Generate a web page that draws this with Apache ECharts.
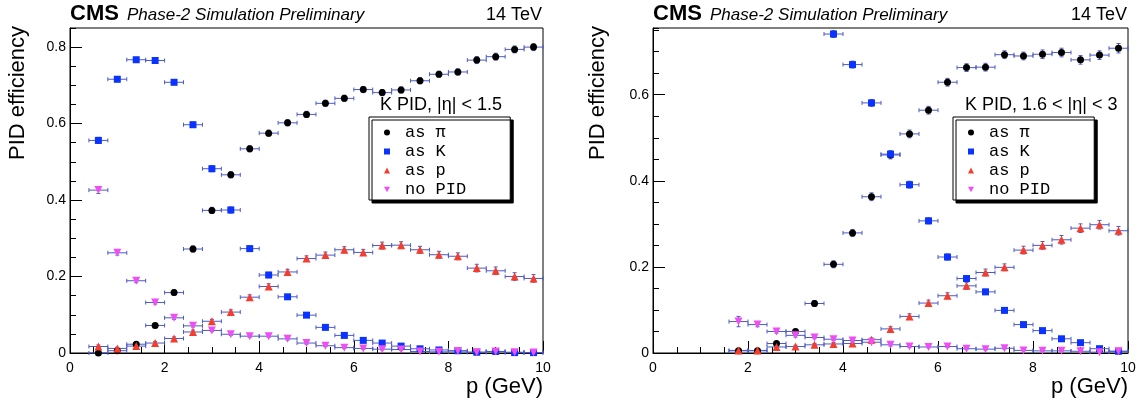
<!DOCTYPE html>
<html><head><meta charset="utf-8">
<script src="https://cdn.jsdelivr.net/npm/echarts@6/dist/echarts.min.js"></script>
<style>html,body{margin:0;padding:0;background:#fff}#c{width:1141px;height:405px}</style>
</head><body><div id="c"></div>
<script>
// ---------- data ----------
const pLeft = [0.6,1.0,1.4,1.8,2.2,2.6,3.0,3.4,3.8,4.2,4.6,5.0,5.4,5.8,6.2,6.6,7.0,7.4,7.8,8.2,8.6,9.0,9.4,9.8];
const leftPi = [0.000,0.006,0.023,0.072,0.158,0.272,0.373,0.466,0.534,0.575,0.602,0.624,0.653,0.666,0.689,0.681,0.688,0.712,0.729,0.735,0.766,0.775,0.794,0.800];
const leftK  = [0.556,0.716,0.767,0.765,0.708,0.597,0.482,0.374,0.273,0.204,0.147,0.099,0.067,0.046,0.033,0.026,0.018,0.011,0.008,0.006,0.002,0.004,0.001,0.001];
const leftP  = [0.017,0.012,0.018,0.026,0.038,0.055,0.083,0.107,0.146,0.174,0.212,0.247,0.256,0.270,0.263,0.281,0.282,0.270,0.257,0.253,0.222,0.215,0.200,0.195];
const leftNo = [0.426,0.262,0.189,0.132,0.092,0.071,0.059,0.049,0.044,0.044,0.037,0.026,0.019,0.014,0.012,0.010,0.009,0.004,0.003,0.005,0.002,0.004,0.002,0.001];
const leftPiErr = [0.002,0.003,0.004,0.005,0.007,0.008,0.008,0.008,0.008,0.008,0.008,0.008,0.008,0.008,0.008,0.008,0.008,0.008,0.008,0.008,0.009,0.009,0.009,0.009];
const leftKErr  = [0.008,0.007,0.006,0.006,0.006,0.007,0.008,0.008,0.007,0.007,0.006,0.005,0.004,0.004,0.003,0.003,0.003,0.002,0.002,0.002,0.002,0.002,0.001,0.001];
const leftPErr  = [0.004,0.003,0.003,0.004,0.004,0.005,0.005,0.006,0.006,0.007,0.007,0.007,0.008,0.008,0.008,0.009,0.009,0.009,0.009,0.009,0.010,0.010,0.010,0.010];
const leftNoErr = [0.009,0.006,0.005,0.004,0.004,0.003,0.003,0.003,0.003,0.003,0.003,0.003,0.002,0.002,0.002,0.002,0.002,0.002,0.001,0.001,0.001,0.001,0.001,0.001];

const pRight = [1.8,2.2,2.6,3.0,3.4,3.8,4.2,4.6,5.0,5.4,5.8,6.2,6.6,7.0,7.4,7.8,8.2,8.6,9.0,9.4,9.8];
const rightPi = [0.005,0.005,0.022,0.050,0.115,0.206,0.279,0.363,0.460,0.509,0.564,0.629,0.663,0.664,0.693,0.690,0.694,0.698,0.681,0.692,0.708];
const rightK  = [null,null,null,null,null,0.741,0.670,0.581,0.462,0.391,0.307,0.223,0.173,0.142,0.099,0.066,0.052,0.033,0.024,0.010,0.004];
const rightP  = [0.006,0.006,0.014,0.015,0.019,0.021,0.022,0.031,0.056,0.085,0.116,0.133,0.156,0.187,0.199,0.239,0.250,0.263,0.290,0.298,0.284];
const rightNo = [0.073,0.066,0.050,0.041,0.036,0.032,0.029,0.025,0.019,0.015,0.014,0.015,0.010,0.009,0.011,0.006,0.005,0.005,0.004,0.002,0.004];
const rightPiErr = [0.003,0.003,0.004,0.005,0.007,0.008,0.008,0.009,0.009,0.009,0.009,0.009,0.009,0.009,0.009,0.009,0.010,0.010,0.010,0.010,0.011];
const rightKErr  = [null,null,null,null,null,0.008,0.008,0.008,0.008,0.008,0.007,0.007,0.006,0.006,0.005,0.004,0.004,0.003,0.003,0.002,0.002];
const rightPErr  = [0.002,0.002,0.003,0.003,0.003,0.003,0.003,0.004,0.005,0.006,0.007,0.007,0.008,0.008,0.008,0.009,0.009,0.010,0.010,0.010,0.010];
const rightNoErr = [0.012,0.005,0.004,0.004,0.003,0.003,0.003,0.003,0.003,0.002,0.002,0.002,0.002,0.002,0.002,0.001,0.001,0.001,0.001,0.001,0.001];

const binHalfWidth = 0.2;
const seriesNames = ['as \u03c0', 'as K', 'as p', 'no PID'];
const leftTitle = 'K PID, |\u03b7| < 1.5';
const rightTitle = 'K PID, 1.6 < |\u03b7| < 3';

// ---------- styles ----------
const COLORS = ['#000000', '#0a33ff', '#f43d2c', '#f04ef5'];
const SYMBOLS = ['circle', 'rect', 'triangle', 'path://M0,0L10,0L5,9Z'];
const SIZES = [7, 7, 8, 8];
const ERR_COLOR = '#4d5ac4';
const SANS = '"Liberation Sans", Arial, sans-serif';

function pairs(xs, ys) { return xs.map((x, i) => ys[i] == null ? null : [x, ys[i]]).filter(Boolean); }
function triples(xs, ys, es) { return xs.map((x, i) => ys[i] == null ? null : [x, ys[i], es[i]]).filter(Boolean); }

function errRender(params, api) {
  const x = api.value(0), y = api.value(1), e = api.value(2);
  const l = api.coord([x - binHalfWidth, y]), r = api.coord([x + binHalfWidth, y]);
  const t = api.coord([x, y + e]), b = api.coord([x, Math.max(0, y - e)]);
  const st = { stroke: ERR_COLOR, lineWidth: 1 };
  const c = 2;
  return { type: 'group', children: [
    { type: 'line', shape: { x1: l[0], y1: l[1], x2: r[0], y2: r[1] }, style: st },
    { type: 'line', shape: { x1: l[0], y1: l[1] - c, x2: l[0], y2: l[1] + c }, style: st },
    { type: 'line', shape: { x1: r[0], y1: r[1] - c, x2: r[0], y2: r[1] + c }, style: st },
    { type: 'line', shape: { x1: t[0], y1: t[1], x2: b[0], y2: b[1] }, style: st },
    { type: 'line', shape: { x1: t[0] - c, y1: t[1], x2: t[0] + c, y2: t[1] }, style: st },
    { type: 'line', shape: { x1: b[0] - c, y1: b[1], x2: b[0] + c, y2: b[1] }, style: st }
  ]};
}

function panelSeries(xi, yi, xs, vals, errs) {
  const out = [];
  vals.forEach((v, k) => {
    out.push({ type: 'custom', xAxisIndex: xi, yAxisIndex: yi, renderItem: errRender,
      data: triples(xs, v, errs[k]), encode: { x: 0, y: 1 }, silent: true, z: 2, clip: false });
  });
  vals.forEach((v, k) => {
    out.push({ type: 'scatter', name: seriesNames[k], xAxisIndex: xi, yAxisIndex: yi,
      data: pairs(xs, v), symbol: SYMBOLS[k], symbolSize: SIZES[k],
      itemStyle: { color: COLORS[k], opacity: 1 }, z: 3 + k, silent: true });
  });
  return out;
}

const tickFmt = v => (Math.abs(v) < 1e-9 ? '0' : (Math.abs(v - Math.round(v)) < 1e-9 ? String(Math.round(v)) : v.toFixed(1)));

function xAxisCfg(gi) {
  return { type: 'value', gridIndex: gi, min: 0, max: 10, interval: 2,
    axisLine: { show: true, lineStyle: { color: '#000', width: 1 } },
    axisTick: { show: true, inside: true, length: 12, lineStyle: { color: '#000', width: 1 } },
    minorTick: { show: true, splitNumber: 4, length: 6, lineStyle: { color: '#000', width: 1 } },
    splitLine: { show: false }, minorSplitLine: { show: false },
    axisLabel: { show: true, margin: 8, color: '#000', fontFamily: SANS, fontSize: 14, formatter: tickFmt } };
}
function yMajorCfg(gi, max) {
  return { type: 'value', gridIndex: gi, min: 0, max: max, interval: 0.2, position: 'left',
    axisLine: { show: true, lineStyle: { color: '#000', width: 1 } },
    axisTick: { show: true, inside: true, length: 12, lineStyle: { color: '#000', width: 1 } },
    splitLine: { show: false },
    axisLabel: { show: true, margin: 4, color: '#000', fontFamily: SANS, fontSize: 14, showMaxLabel: false,
      formatter: v => (Math.abs(v * 5 - Math.round(v * 5)) < 1e-6 ? tickFmt(v) : '') } };
}
function yMinorCfg(gi, max) {
  return { type: 'value', gridIndex: gi, min: 0, max: max, interval: 0.05, position: 'left',
    axisLine: { show: false },
    axisTick: { show: true, inside: true, length: 6, lineStyle: { color: '#000', width: 1 } },
    splitLine: { show: false }, axisLabel: { show: false } };
}

function legendCfg(left) {
  return { orient: 'vertical', left: left, top: 117, selectedMode: false,
    data: seriesNames.map((n, k) => ({ name: n, icon: SYMBOLS[k] })),
    itemWidth: 6, itemHeight: 6, itemGap: 0,
    padding: [6, 44, 1, 15],
    backgroundColor: '#fff', borderColor: '#000', borderWidth: 1, borderRadius: 0,
    shadowColor: '#000', shadowOffsetX: 3, shadowOffsetY: 3, shadowBlur: 0,
    textStyle: { fontFamily: '"Liberation Mono", "DejaVu Sans Mono", monospace', fontSize: 17, color: '#000',
      lineHeight: 19, padding: [0, 0, 0, 10] },
    z: 10 };
}

function txt(x, y, text, font, align, rot) {
  return { type: 'text', x: x, y: y, rotation: rot || 0, z: 20,
    style: { text: text, font: font, fill: '#000', align: align, verticalAlign: 'middle',
      textAlign: align, textVerticalAlign: 'middle' } };
}

const graphics = [];
[[70, 543, leftTitle, 380, 18], [653, 1128, rightTitle, 965, 598]].forEach(([x0, x1, title, tx, ylx]) => {
  graphics.push(txt(x0, 14, 'CMS', 'bold 22px ' + SANS, 'left'));
  graphics.push(txt(x0 + 57, 15.5, 'Phase-2 Simulation Preliminary', 'italic 17px ' + SANS, 'left'));
  graphics.push(txt(x1 - 1, 15, '14 TeV', '18px ' + SANS, 'right'));
  graphics.push(txt(tx, 105, title, '18px ' + SANS, 'left'));
  graphics.push(txt(x1, 387, 'p (GeV)', '22px ' + SANS, 'right'));
  graphics.push(txt(ylx, 93, 'PID efficiency', '22px ' + SANS, 'center', Math.PI / 2));
});

const option = {
  animation: false,
  backgroundColor: '#fff',
  grid: [
    { left: 70, top: 28, width: 473, height: 325, show: true, borderColor: '#000', borderWidth: 1, backgroundColor: 'transparent', outerBoundsMode: 'none' },
    { left: 653, top: 28, width: 475, height: 325, show: true, borderColor: '#000', borderWidth: 1, backgroundColor: 'transparent', outerBoundsMode: 'none' }
  ],
  xAxis: [xAxisCfg(0), xAxisCfg(1)],
  yAxis: [yMajorCfg(0, 0.85), yMinorCfg(0, 0.85), yMajorCfg(1, 0.755), yMinorCfg(1, 0.755)],
  legend: [legendCfg(369), legendCfg(953)],
  graphic: graphics,
  series: [].concat(
    panelSeries(0, 0, pLeft, [leftPi, leftK, leftP, leftNo], [leftPiErr, leftKErr, leftPErr, leftNoErr]),
    panelSeries(1, 2, pRight, [rightPi, rightK, rightP, rightNo], [rightPiErr, rightKErr, rightPErr, rightNoErr])
  )
};
const chart = echarts.init(document.getElementById('c'), null, { renderer: 'canvas' });
chart.setOption(option);
</script></body></html>
